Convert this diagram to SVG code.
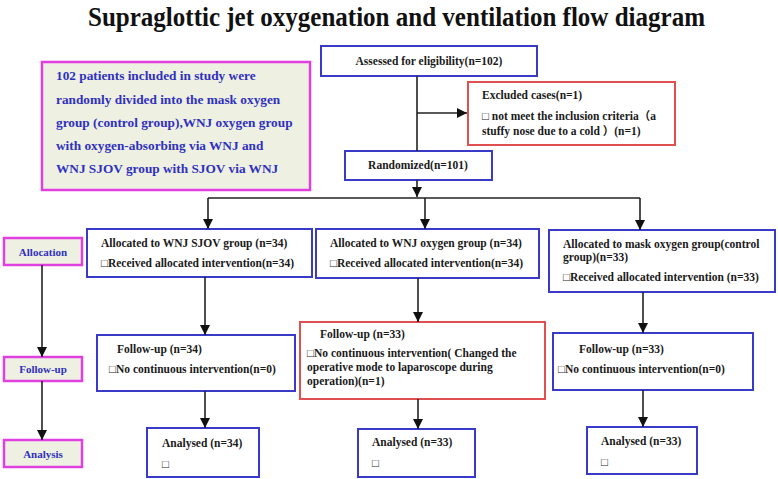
<svg xmlns="http://www.w3.org/2000/svg" width="778" height="479" viewBox="0 0 778 479">
<defs>
<marker id="ah" markerUnits="userSpaceOnUse" markerWidth="10" markerHeight="10" viewBox="0 0 10 10" refX="10" refY="5" orient="auto">
<path d="M0,0 L10,5 L0,10 z" fill="#111"/>
</marker>
<style>
text{font-family:"Liberation Serif","Noto Sans CJK SC",serif;font-weight:bold;}
.t{font-size:11.5px;fill:#1a1a1a;}
.title{font-size:27px;fill:#111;}
.blue{fill:#3030c0;}
.info{font-size:13.3px;}
.side{font-size:11px;}
.bb{fill:#fff;stroke:#3a3ac8;stroke-width:2;}
.rb{fill:#fff;stroke:#e05050;stroke-width:2;}
.mb{fill:#eef0e2;stroke:#e040e0;stroke-width:2.5;}
.c line{stroke:#222;stroke-width:1.6;}
.c .a{marker-end:url(#ah);}
</style>
</defs>
<rect width="778" height="479" fill="#fff"/>
<text class="title" x="88" y="26" textLength="617" lengthAdjust="spacingAndGlyphs">Supraglottic jet oxygenation and ventilation flow diagram</text>

<g id="info">
<rect class="mb" x="42" y="62" width="268" height="128"/>
<text class="info blue" x="56" y="80">102 patients included in study were</text>
<text class="info blue" x="56" y="104">randomly divided into the mask oxygen</text>
<text class="info blue" x="56" y="127">group (control group),WNJ oxygen group</text>
<text class="info blue" x="56" y="150">with oxygen-absorbing via WNJ and</text>
<text class="info blue" x="56" y="173">WNJ SJOV group with SJOV via WNJ</text>
</g>

<g id="assessed">
<rect class="bb" x="321" y="46" width="216" height="30"/>
<text class="t" x="429" y="65" text-anchor="middle">Assessed for eligibility(n=102)</text>
</g>

<g id="excluded">
<rect class="rb" x="468" y="82" width="207" height="63"/>
<text class="t" x="482" y="99">Excluded cases(n=1)</text>
<text class="t" x="482" y="120">□ not meet the inclusion criteria（a</text>
<text class="t" x="482" y="135">stuffy nose due to a cold  ）(n=1)</text>
</g>

<g id="randomized">
<rect class="bb" x="345" y="151" width="147" height="29"/>
<text class="t" x="418" y="169" text-anchor="middle">Randomized(n=101)</text>
</g>

<g id="alloc-sjov">
<rect class="bb" x="87" y="229" width="225" height="48"/>
<text class="t" x="101" y="247">Allocated to WNJ SJOV group (n=34)</text>
<text class="t" x="101" y="267">□Received allocated intervention(n=34)</text>
</g>

<g id="alloc-oxygen">
<rect class="bb" x="316" y="229" width="223" height="49"/>
<text class="t" x="330" y="247">Allocated to WNJ oxygen group (n=34)</text>
<text class="t" x="330" y="267">□Received allocated intervention(n=34)</text>
</g>

<g id="alloc-mask">
<rect class="bb" x="549" y="230" width="226" height="62"/>
<text class="t" x="563" y="248">Allocated to mask oxygen group(control</text>
<text class="t" x="563" y="261">group)(n=33)</text>
<text class="t" x="563" y="281">□Received allocated intervention (n=33)</text>
</g>

<g id="side-allocation">
<rect class="mb" x="4" y="238" width="78" height="27"/>
<text class="side blue" x="43" y="256" text-anchor="middle">Allocation</text>
</g>
<g id="side-followup">
<rect class="mb" x="4" y="357" width="78" height="24"/>
<text class="side blue" x="43" y="373" text-anchor="middle">Follow-up</text>
</g>
<g id="side-analysis">
<rect class="mb" x="4" y="440" width="78" height="27"/>
<text class="side blue" x="43" y="458" text-anchor="middle">Analysis</text>
</g>

<g id="follow-sjov">
<rect class="bb" x="97" y="335" width="198" height="56"/>
<text class="t" x="117" y="353">Follow-up (n=34)</text>
<text class="t" x="109" y="373">□No continuous intervention(n=0)</text>
</g>

<g id="follow-oxygen">
<rect class="rb" x="300" y="322" width="245" height="77"/>
<text class="t" x="320" y="338">Follow-up (n=33)</text>
<text class="t" x="307" y="357">□No continuous intervention( Changed the</text>
<text class="t" x="307" y="371">operative mode to laparoscope during</text>
<text class="t" x="307" y="385">operation)(n=1)</text>
</g>

<g id="follow-mask">
<rect class="bb" x="553" y="333" width="200" height="57"/>
<text class="t" x="579" y="353">Follow-up (n=33)</text>
<text class="t" x="558" y="373">□No continuous intervention(n=0)</text>
</g>

<g id="analysed-sjov">
<rect class="bb" x="147" y="428" width="112" height="49"/>
<text class="t" x="162" y="447">Analysed (n=34)</text>
<text class="t" x="162" y="468">□</text>
</g>

<g id="analysed-oxygen">
<rect class="bb" x="358" y="429" width="117" height="48"/>
<text class="t" x="372" y="446">Analysed (n=33)</text>
<text class="t" x="372" y="467">□</text>
</g>

<g id="analysed-mask">
<rect class="bb" x="587" y="427" width="110" height="47"/>
<text class="t" x="601" y="445">Analysed (n=33)</text>
<text class="t" x="601" y="466">□</text>
</g>

<g id="connectors" class="c">
<line x1="417" y1="76" x2="417" y2="151"/>
<line class="a" x1="417" y1="113" x2="467" y2="113"/>
<line class="a" x1="417" y1="180" x2="417" y2="197"/>
<line x1="208" y1="198" x2="640" y2="198"/>
<line class="a" x1="208" y1="198" x2="208" y2="229"/>
<line class="a" x1="425" y1="198" x2="425" y2="229"/>
<line class="a" x1="640" y1="198" x2="640" y2="230"/>
<line class="a" x1="205" y1="277" x2="205" y2="335"/>
<line class="a" x1="418" y1="278" x2="418" y2="322"/>
<line class="a" x1="643" y1="292" x2="643" y2="333"/>
<line class="a" x1="205" y1="391" x2="205" y2="428"/>
<line class="a" x1="418" y1="399" x2="418" y2="429"/>
<line class="a" x1="643" y1="390" x2="643" y2="427"/>
<line class="a" x1="42" y1="265" x2="42" y2="357"/>
<line class="a" x1="42" y1="381" x2="42" y2="440"/>
</g>
</svg>
